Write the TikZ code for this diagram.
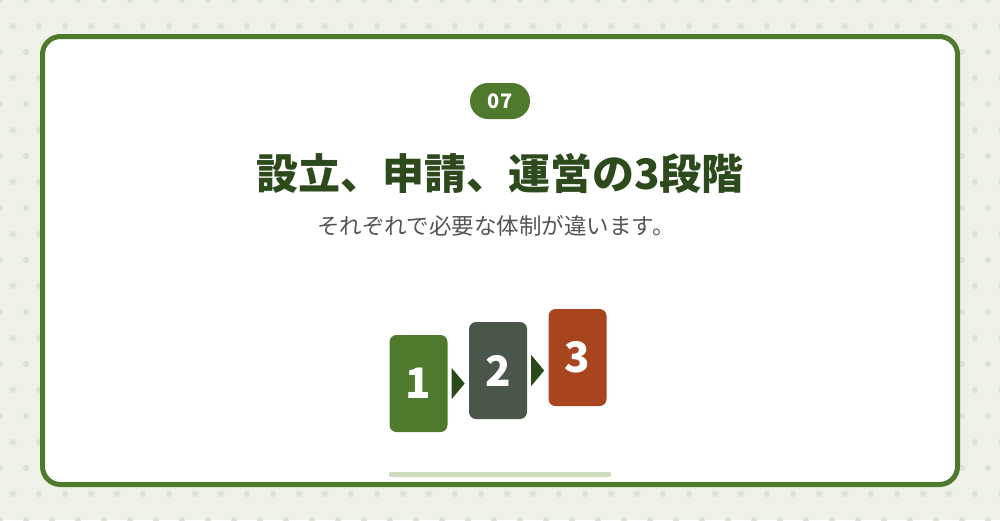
\documentclass[tikz,border=0pt]{standalone}
\usepackage{fontspec}
\newfontfamily\cjk{Noto Sans CJK JP}
\definecolor{bgc}{HTML}{EDF1E8}
\definecolor{dotc}{HTML}{DCE1D6}
\definecolor{leaf}{HTML}{4F7A2E}
\definecolor{dark}{HTML}{2D4A1C}
\definecolor{slate}{HTML}{4B564B}
\definecolor{rust}{HTML}{A8451F}
\definecolor{arr}{HTML}{2A4A1A}
\definecolor{bar}{HTML}{D0DCC0}
\definecolor{sub}{HTML}{555555}
\tikzset{
  stepbox/.style={rounded corners=7pt, inner sep=0pt, minimum width=58pt, minimum height=97pt, text=white, font=\cjk\bfseries\fontsize{42}{42}\selectfont},
  tri/.style={fill=arr, draw=none},
}
\begin{document}
\begin{tikzpicture}[x=1pt,y=-1pt]
\useasboundingbox (0,0) rectangle (1000,520);
\fill[bgc] (0,0) rectangle (1000,520);
\foreach \j in {0,...,20}{
  \pgfmathsetmacro{\off}{mod(\j,2)*13}
  \foreach \i in {0,...,39}{
    \fill[dotc] (\off+26*\i, 26*\j) circle (3);
  }
}
\draw[leaf, line width=5pt, fill=white, rounded corners=18pt] (42.5,36.5) rectangle (957.5,484.5);
\node[fill=leaf, rounded corners=18pt, minimum width=60pt, minimum height=36pt, inner sep=0pt, text=white, font=\cjk\bfseries\fontsize{20}{20}\selectfont] (pill) at (500,101) {07};
\node[text=dark, font=\cjk\bfseries\fontsize{42}{42}\selectfont, inner sep=0pt] (title) at (500,173) {設立、申請、運営の3段階};
\node[text=sub, font=\cjk\fontsize{22.5}{22.5}\selectfont, inner sep=0pt] (subt) at (496,226) {それぞれで必要な体制が違います。};
\node[stepbox, fill=leaf] (s1) at (418.5,383.5) {1};
\node[stepbox, fill=slate] (s2) at (498,370.5) {2};
\node[stepbox, fill=rust] (s3) at (577.5,357.5) {3};
\path (s1.east) ++(4,0) coordinate (a1);
\fill[tri] (a1) ++(0,-15.5) -- ++(13,15.5) -- ++(-13,15.5) -- cycle;
\path (s2.east) ++(4,0) coordinate (a2);
\fill[tri] (a2) ++(0,-15.5) -- ++(13,15.5) -- ++(-13,15.5) -- cycle;
\fill[bar] (389,472) rectangle (611,477);
\end{tikzpicture}
\end{document}
